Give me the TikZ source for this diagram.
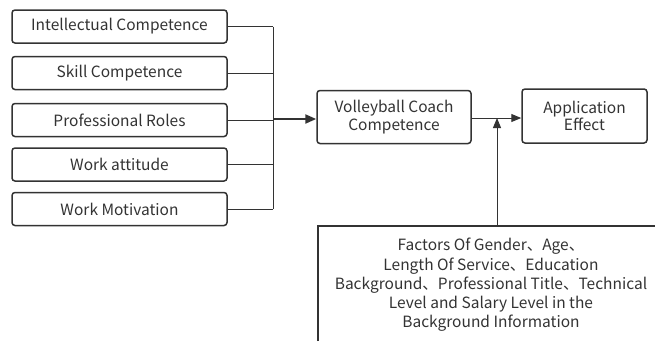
\documentclass[tikz,border=0pt]{standalone}
\usepackage{fontspec}
\setmainfont{Noto Sans CJK SC}
\usetikzlibrary{arrows.meta}
\definecolor{ln}{HTML}{333333}
\definecolor{tx}{HTML}{333333}
\begin{document}
\begin{tikzpicture}[x=1pt,y=-1pt,
  box/.style={draw=ln,line width=1.5pt,rounded corners=3pt,inner sep=0pt,align=center,text=tx,font=\fontsize{15.5}{17.5}\selectfont},
  lbox/.style={box,minimum width=215pt,minimum height=33pt},
  conn/.style={draw=ln,line width=1pt},
  arr/.style={conn,-{Triangle[length=10pt,width=8pt]}}]
\useasboundingbox (0,0) rectangle (655,341);
\node[lbox] (a) at (119.5,26.5) {Intellectual Competence};
\node[lbox] (b) at (119.5,73) {Skill Competence};
\node[lbox] (c) at (119.5,120) {Professional Roles};
\node[lbox] (d) at (119.5,164.5) {Work attitude};
\node[lbox] (e) at (119.5,209) {Work Motivation};
\node[box,minimum width=154pt,minimum height=53pt] (v) at (394,117) {Volleyball Coach\\Competence};
\node[box,minimum width=125pt,minimum height=54pt] (p) at (584.5,116) {Application\\Effect};
\coordinate (bt) at (273,26.5);
\coordinate (bb) at (273,209);
\coordinate (bm) at (273,119);
\draw[conn] (a.east) -- (bt);
\draw[conn] (b.east) -- (273,73);
\draw[conn] (c.east) -- (273,120);
\draw[conn] (d.east) -- (273,164.5);
\draw[conn] (e.east) -- (bb);
\draw[conn] (bt) -- (bb);
\draw[conn,line width=2.2pt,-{Triangle[length=11pt,width=9pt]}] (bm) -- (v.west |- bm);
\coordinate (j) at (497,118);
\draw[arr] (v.east |- j) -- (p.west |- j);
% bottom cropped box
\coordinate (fl) at (318,341);
\coordinate (ft) at (318,226);
\coordinate (fr) at (655,226);
\draw[draw=ln,line width=1.3pt] (fl) -- (ft) -- (fr);
\node[align=center,text=tx,font=\fontsize{15.5}{19.3}\selectfont,inner sep=0pt] (f) at (491,285)
 {Factors Of Gender、Age、\\Length Of Service、Education\\Background、Professional Title、Technical\\Level and Salary Level in the\\Background Information};
\coordinate (fa) at (497,226);
\draw[arr] (fa) -- (j);
\end{tikzpicture}
\end{document}
